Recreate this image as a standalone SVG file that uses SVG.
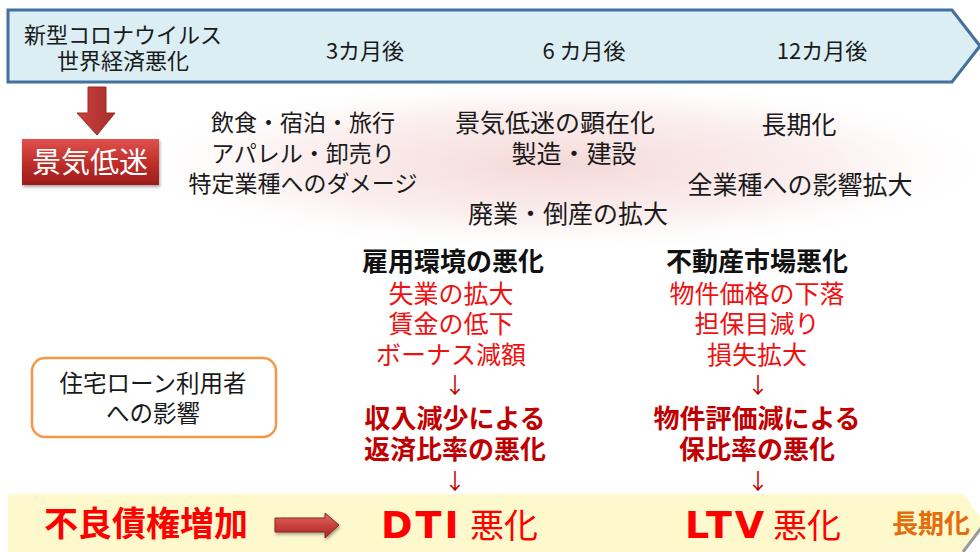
<svg xmlns="http://www.w3.org/2000/svg" width="980" height="552" viewBox="0 0 980 552">
<defs>
<style>
text{font-family:"Noto Sans CJK JP","Noto Sans",sans-serif;text-anchor:middle}
.t22{font-size:22px;fill:#1a1a1a}
.t23{font-size:23px;fill:#1a1a1a}
.t25{font-size:25px;fill:#1a1a1a}
.hd{font-size:26px;font-weight:bold;fill:#111}
.rd{font-size:25px;fill:#ee1111}
.dr{font-size:26px;font-weight:bold;fill:#c00000}
.ar{font-size:22px;fill:#c00000}
.lat{font-family:"DejaVu Sans",sans-serif;font-weight:bold;font-size:38px;letter-spacing:3px;fill:#ff0000;text-anchor:start}
.akk{font-size:34px;fill:#ff0000;text-anchor:start}
</style>
<radialGradient id="glow" cx="0.5" cy="0.5" r="0.5">
<stop offset="0" stop-color="#f4d4d4" stop-opacity="0.9"/>
<stop offset="0.6" stop-color="#f8e4e4" stop-opacity="0.6"/>
<stop offset="1" stop-color="#ffffff" stop-opacity="0"/>
</radialGradient>
<linearGradient id="redbox" x1="0" y1="0" x2="0" y2="1">
<stop offset="0" stop-color="#e0514d"/>
<stop offset="0.5" stop-color="#c0302c"/>
<stop offset="1" stop-color="#9c1c1a"/>
</linearGradient>
<linearGradient id="redarrow" x1="0" y1="0" x2="0" y2="1">
<stop offset="0" stop-color="#e26a67"/>
<stop offset="0.5" stop-color="#c8413d"/>
<stop offset="1" stop-color="#a02a27"/>
</linearGradient>
<linearGradient id="redarrowV" x1="0" y1="0" x2="1" y2="0">
<stop offset="0" stop-color="#c8413d"/>
<stop offset="1" stop-color="#a82e2b"/>
</linearGradient>
<filter id="sh" x="-10%" y="-10%" width="130%" height="140%">
<feDropShadow dx="1" dy="2" stdDeviation="1.5" flood-color="#000" flood-opacity="0.35"/>
</filter>
</defs>
<rect width="980" height="552" fill="#ffffff"/>
<ellipse cx="560" cy="165" rx="450" ry="90" fill="url(#glow)"/>

<g id="timeline">
<path d="M8 10 H952 L980 46 L952 82 H8 Z" fill="#dbeef4" stroke="#41719c" stroke-width="3"/>
<text class="t22" x="123" y="43">新型コロナウイルス</text>
<text class="t22" x="123" y="69">世界経済悪化</text>
<text class="t22" x="365" y="59">3カ月後</text>
<text class="t22" x="584" y="59">6 カ月後</text>
<text class="t22" x="822" y="59">12カ月後</text>
</g>

<g id="keiki">
<rect x="22" y="139" width="137" height="46" fill="url(#redbox)" filter="url(#sh)"/>
<text x="90" y="173" style="font-size:29px;fill:#ffffff">景気低迷</text>
</g>

<g id="col3m">
<text class="t23" x="303" y="131">飲食・宿泊・旅行</text>
<text class="t23" x="303" y="162">アパレル・卸売り</text>
<text class="t23" x="303" y="192">特定業種へのダメージ</text>
</g>
<g id="col6m">
<text class="t25" x="555" y="132">景気低迷の顕在化</text>
<text class="t25" x="574" y="163">製造・建設</text>
<text class="t25" x="568" y="223">廃業・倒産の拡大</text>
</g>
<g id="col12m">
<text class="t25" x="799" y="134">長期化</text>
<text class="t25" x="800" y="194">全業種への影響拡大</text>
</g>

<g id="employment">
<text class="hd" x="453" y="271">雇用環境の悪化</text>
<text class="rd" x="451" y="303">失業の拡大</text>
<text class="rd" x="451" y="333">賃金の低下</text>
<text class="rd" x="451" y="364">ボーナス減額</text>
<text class="dr" x="455" y="428">収入減少による</text>
<text class="dr" x="455" y="459">返済比率の悪化</text>
</g>

<g id="realestate">
<text class="hd" x="757" y="271">不動産市場悪化</text>
<text class="rd" x="757" y="303">物件価格の下落</text>
<text class="rd" x="757" y="333">担保目減り</text>
<text class="rd" x="757" y="364">損失拡大</text>
<text class="dr" x="757" y="428">物件評価減による</text>
<text class="dr" x="757" y="459">保比率の悪化</text>
</g>

<g id="borrower">
<rect x="32" y="358" width="244" height="79" rx="13" fill="#ffffff" stroke="#f79646" stroke-width="2.5"/>
<text x="153" y="392" style="font-size:23.5px;fill:#1a1a1a">住宅ローン利用者</text>
<text x="153" y="422" style="font-size:23.5px;fill:#1a1a1a">への影響</text>
</g>

<g id="bottom">
<path d="M8 494 H963 L985 523 L963 552 H8 Z" fill="#fdf9cc"/>
<path d="M963 552 L985 523" stroke="#9a9a9a" stroke-width="3" fill="none"/>
<text x="146" y="536" style="font-size:34px;font-weight:bold;fill:#ff0000">不良債権増加</text>
<text class="lat" x="381" y="538">DTI</text>
<text class="akk" x="470" y="538">悪化</text>
<text class="lat" x="685" y="538">LTV</text>
<text class="akk" x="773" y="538">悪化</text>
<text x="931" y="533" style="font-size:26px;font-weight:bold;fill:#e46c0a">長期化</text>
</g>

<g id="connectors">
<path d="M88 87 H106 V113 H115 L97 135 L77 113 H88 Z" fill="url(#redarrowV)" stroke="#a02a27" stroke-width="1"/>
<path d="M275 518 H325 V513 L339 525 L325 538 V532 H275 Z" fill="url(#redarrow)" stroke="#8c2220" stroke-width="1" filter="url(#sh)"/>
<text class="ar" x="455" y="393">↓</text>
<text class="ar" x="758" y="393">↓</text>
<text class="ar" x="455" y="489">↓</text>
<text class="ar" x="758" y="489">↓</text>
</g>
</svg>
